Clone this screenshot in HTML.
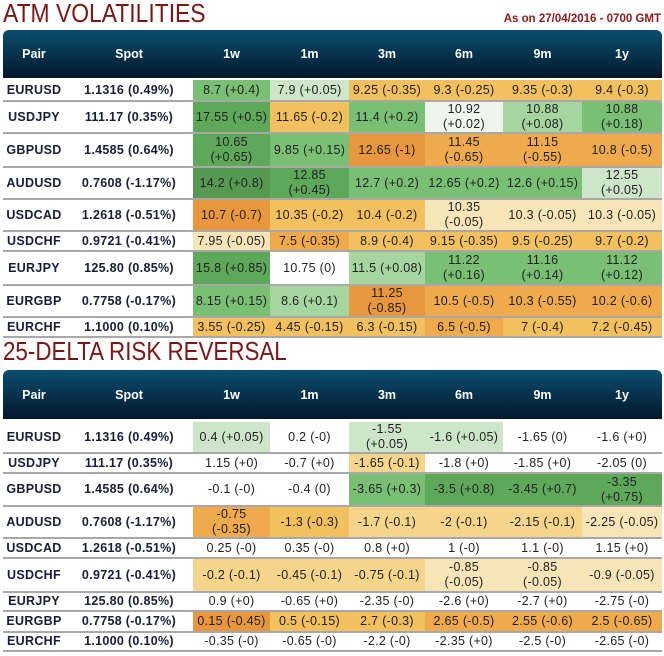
<!DOCTYPE html>
<html><head><meta charset="utf-8">
<style>
body{margin:0;width:664px;height:656px;background:#fff;position:relative;overflow:hidden;font-family:"Liberation Sans",sans-serif;}
.title{position:absolute;left:3px;color:#7a1616;font-size:26px;white-space:nowrap;transform-origin:0 0;}
.asof{position:absolute;right:3px;top:13px;color:#8a1a1a;font-weight:bold;font-size:11.5px;}
.hdr{position:absolute;left:3px;width:659px;background:linear-gradient(#0b4e6f,#03182c);border-radius:6px 6px 0 0;}
.hc{position:absolute;color:#fff;font-weight:bold;font-size:12.5px;text-align:center;}
.row{position:absolute;left:3px;width:659px;border-bottom:2px solid #a8a8a8;box-sizing:border-box;}
.c{position:absolute;top:0;bottom:0;display:flex;align-items:center;justify-content:center;text-align:center;font-size:12.5px;letter-spacing:0.3px;line-height:15px;color:#222;white-space:pre-line;}
.b{font-weight:bold;color:#1a1c3a;}
</style></head><body>
<div class="title" style="top:-2px;transform:scaleX(0.88)">ATM VOLATILITIES</div>
<div class="asof">As on 27/04/2016 - 0700 GMT</div>
<div class="title" style="top:336px;transform:scaleX(0.86)">25-DELTA RISK REVERSAL</div>
<div id="root"></div>
<script>
const pairs=["EURUSD","USDJPY","GBPUSD","AUDUSD","USDCAD","USDCHF","EURJPY","EURGBP","EURCHF"];
const spots=["1.1316 (0.49%)","111.17 (0.35%)","1.4585 (0.64%)","0.7608 (-1.17%)","1.2618 (-0.51%)","0.9721 (-0.41%)","125.80 (0.85%)","0.7758 (-0.17%)","1.1000 (0.10%)"];
const tenors=["1w","1m","3m","6m","9m","1y"];
const atmVals=[
["8.7 (+0.4)","7.9 (+0.05)","9.25 (-0.35)","9.3 (-0.25)","9.35 (-0.3)","9.4 (-0.3)"],
["17.55 (+0.5)","11.65 (-0.2)","11.4 (+0.2)","10.92\n(+0.02)","10.88\n(+0.08)","10.88\n(+0.18)"],
["10.65\n(+0.65)","9.85 (+0.15)","12.65 (-1)","11.45\n(-0.65)","11.15\n(-0.55)","10.8 (-0.5)"],
["14.2 (+0.8)","12.85\n(+0.45)","12.7 (+0.2)","12.65 (+0.2)","12.6 (+0.15)","12.55\n(+0.05)"],
["10.7 (-0.7)","10.35 (-0.2)","10.4 (-0.2)","10.35\n(-0.05)","10.3 (-0.05)","10.3 (-0.05)"],
["7.95 (-0.05)","7.5 (-0.35)","8.9 (-0.4)","9.15 (-0.35)","9.5 (-0.25)","9.7 (-0.2)"],
["15.8 (+0.85)","10.75 (0)","11.5 (+0.08)","11.22\n(+0.16)","11.16\n(+0.14)","11.12\n(+0.12)"],
["8.15 (+0.15)","8.6 (+0.1)","11.25\n(-0.85)","10.5 (-0.5)","10.3 (-0.55)","10.2 (-0.6)"],
["3.55 (-0.25)","4.45 (-0.15)","6.3 (-0.15)","6.5 (-0.5)","7 (-0.4)","7.2 (-0.45)"]];
const atmLvl=[
["g2","g0","o2","o2","o2","o2"],
["g3","o2","g2","gw","g1","g2"],
["g3","g2","o4","o3","o3","o3"],
["g4","g3","g2","g2","g2","g0"],
["o4","o2","o2","o0","o0","o0"],
["o0","o3","o2","o2","o2","o2"],
["g3","w","g1","g2","g2","g2"],
["g2","g1","o4","o3","o3","o3"],
["o2","o2","o2","o3","o2","o2"]];
const rrVals=[
["0.4 (+0.05)","0.2 (-0)","-1.55\n(+0.05)","-1.6 (+0.05)","-1.65 (0)","-1.6 (+0)"],
["1.15 (+0)","-0.7 (+0)","-1.65 (-0.1)","-1.8 (+0)","-1.85 (+0)","-2.05 (0)"],
["-0.1 (-0)","-0.4 (0)","-3.65 (+0.3)","-3.5 (+0.8)","-3.45 (+0.7)","-3.35\n(+0.75)"],
["-0.75\n(-0.35)","-1.3 (-0.3)","-1.7 (-0.1)","-2 (-0.1)","-2.15 (-0.1)","-2.25 (-0.05)"],
["0.25 (-0)","0.35 (-0)","0.8 (+0)","1 (-0)","1.1 (-0)","1.15 (+0)"],
["-0.2 (-0.1)","-0.45 (-0.1)","-0.75 (-0.1)","-0.85\n(-0.05)","-0.85\n(-0.05)","-0.9 (-0.05)"],
["0.9 (+0)","-0.65 (+0)","-2.35 (-0)","-2.6 (+0)","-2.7 (+0)","-2.75 (-0)"],
["0.15 (-0.45)","0.5 (-0.15)","2.7 (-0.3)","2.65 (-0.5)","2.55 (-0.6)","2.5 (-0.65)"],
["-0.35 (-0)","-0.65 (-0)","-2.2 (-0)","-2.35 (+0)","-2.5 (-0)","-2.65 (-0)"]];
const rrLvl=[
["g0","w","g0","g0","w","w"],
["w","w","o1","w","w","w"],
["w","w","g2","g3","g3","g3"],
["o3","o2","o1","o1","o1","o0"],
["w","w","w","w","w","w"],
["o1","o1","o1","o0","o0","o0"],
["w","w","w","w","w","w"],
["o4","o2","o2","o3","o3","o3"],
["w","w","w","w","w","w"]];
const palette={g4:"#569a52",g3:"#5ea85a",g2:"#79c074",g1:"#a6d69f",g0:"#cde6c9",gw:"#eef5ec",w:"#ffffff",o0:"#f7e5b8",o1:"#f5d58c",o2:"#f2c05e",o3:"#efaa4e",o4:"#e9973f"};
const colX=[0,62,190,267,346,422,500,579,659];
const root=document.getElementById('root');
function build(prefix,hTop,hH,rowTops,rowHs,vals,lvls){
  const h=document.createElement('div');h.className='hdr';
  
  
  h.style.top=hTop+'px';h.style.height=hH+'px';
  const heads=["Pair","Spot"].concat(tenors);
  heads.forEach((t,i)=>{const d=document.createElement('div');d.className='hc';
    
    
    d.style.left=colX[i]+'px';d.style.width=(colX[i+1]-colX[i])+'px';d.style.top=(hH/2-7)+'px';d.textContent=t;h.appendChild(d);});
  root.appendChild(h);
  pairs.forEach((p,r)=>{
    const row=document.createElement('div');row.className='row';
    
    
    row.style.top=rowTops[r]+'px';row.style.height=rowHs[r]+'px';
    const cells=[p,spots[r]].concat(vals[r]);
    cells.forEach((t,i)=>{const d=document.createElement('div');d.className='c'+(i<2?' b':'');
      
      
      d.style.left=colX[i]+'px';d.style.width=(colX[i+1]-colX[i])+'px';
      if(i>=2)d.style.background=palette[lvls[r][i-2]];
      d.textContent=t;row.appendChild(d);});
    root.appendChild(row);
  });
}
build('atm',30,48,[80,102,134,168,200,232,252,286,318],[22,32,34,32,32,20,34,32,20],atmVals,atmLvl);
build('rr',370,49,[422,454,474,507,539,559,593,612,633],[32,20,33,32,20,34,19,21,19],rrVals,rrLvl);
</script>
</body></html>
